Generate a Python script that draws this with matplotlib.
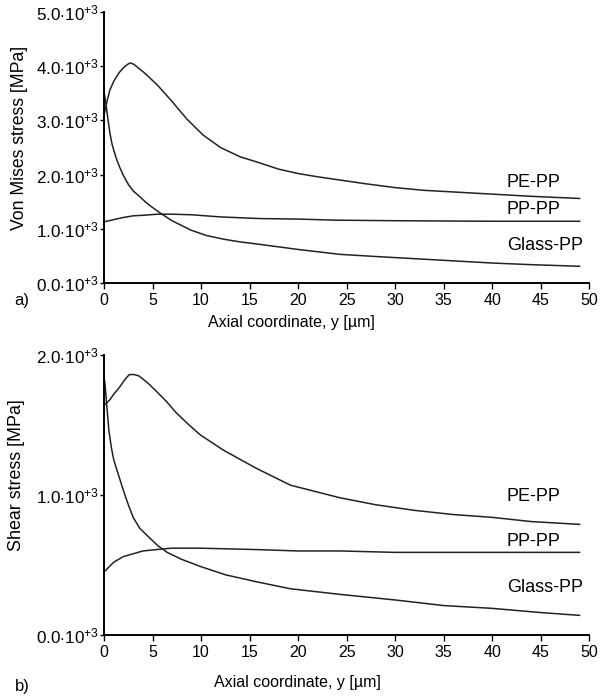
import numpy as np
import matplotlib
matplotlib.use("Agg")
import matplotlib.pyplot as plt

plt.rcParams["font.family"] = ["Liberation Sans", "DejaVu Sans"]
plt.rcParams["mathtext.fontset"] = "custom"
plt.rcParams["mathtext.rm"] = "Liberation Sans"
plt.rcParams["mathtext.it"] = "Liberation Sans:italic"
plt.rcParams["mathtext.bf"] = "Liberation Sans:bold"

# (a) Von Mises stress, values in 10^3 MPa
vm_pe_x = [0, 0.3, 0.6, 1.0, 1.3, 1.6, 2.0, 2.4, 2.7, 3.1, 3.5, 4.0, 4.5, 5.5, 7, 8.5, 10.2, 12, 14, 15.8, 18, 20, 22, 24.3, 27, 30, 33, 36, 40, 44, 49]
vm_pe_y = [3.1, 3.35, 3.56, 3.72, 3.81, 3.89, 3.97, 4.03, 4.06, 4.03, 3.97, 3.9, 3.82, 3.65, 3.35, 3.03, 2.73, 2.5, 2.33, 2.23, 2.1, 2.02, 1.96, 1.9, 1.83, 1.76, 1.71, 1.68, 1.64, 1.6, 1.56]
vm_glass_x = [0, 0.2, 0.4, 0.6, 0.8, 1.0, 1.3, 1.6, 2.0, 2.5, 3.0, 3.7, 4.3, 4.8, 5.8, 7, 8.9, 10.5, 12.3, 14, 15.8, 20, 24.3, 28, 32, 36, 40, 44, 49]
vm_glass_y = [3.52, 3.3, 3.02, 2.77, 2.58, 2.45, 2.28, 2.14, 1.98, 1.82, 1.70, 1.59, 1.49, 1.42, 1.29, 1.15, 0.98, 0.88, 0.81, 0.76, 0.72, 0.62, 0.53, 0.49, 0.45, 0.41, 0.37, 0.34, 0.31]
vm_pp_x = [0, 1, 2, 3, 4, 5.5, 7, 9, 12, 16, 20, 24, 30, 40, 49]
vm_pp_y = [1.13, 1.17, 1.21, 1.24, 1.25, 1.27, 1.27, 1.26, 1.22, 1.19, 1.18, 1.16, 1.15, 1.14, 1.14]

# (b) Shear stress, values in 10^3 MPa
sh_pe_x = [0, 0.3, 0.6, 1.0, 1.6, 2.1, 2.6, 3.1, 3.6, 4.5, 5.4, 6.4, 7.4, 8.6, 9.9, 12.3, 15.7, 19.2, 22.6, 24.3, 28, 32, 36, 40, 44, 49]
sh_pe_y = [1.64, 1.66, 1.68, 1.72, 1.77, 1.82, 1.86, 1.86, 1.85, 1.80, 1.74, 1.67, 1.59, 1.51, 1.43, 1.32, 1.19, 1.07, 1.01, 0.98, 0.93, 0.89, 0.86, 0.84, 0.81, 0.79]
sh_glass_x = [0, 0.1, 0.3, 0.5, 0.75, 1.0, 1.5, 2.0, 2.5, 3.0, 3.7, 4.6, 5.5, 6.5, 8, 9.9, 12.5, 15.7, 19.2, 24.3, 30, 35, 40, 45, 49]
sh_glass_y = [1.84, 1.79, 1.62, 1.46, 1.34, 1.25, 1.14, 1.03, 0.93, 0.84, 0.76, 0.70, 0.64, 0.59, 0.54, 0.49, 0.43, 0.38, 0.33, 0.29, 0.25, 0.21, 0.19, 0.16, 0.14]
sh_pp_x = [0, 1, 2, 3, 4, 5.4, 7, 9.9, 15.7, 20, 24.3, 30, 40, 49]
sh_pp_y = [0.45, 0.52, 0.56, 0.58, 0.60, 0.61, 0.62, 0.62, 0.61, 0.60, 0.60, 0.59, 0.59, 0.59]

series_names = ["PE-PP", "PP-PP", "Glass-PP"]
vm_label_y = [1.86, 1.35, 0.70]
sh_label_y = [0.99, 0.67, 0.34]
label_x = 41.5

xticks = np.arange(0, 51, 5)


def fmt(v):
    return r"$%.1f{\cdot}10^{+3}$" % v


def style_axes(ax, yticks, ymax):
    ax.set_xlim(0, 50)
    ax.set_ylim(0, ymax)
    ax.spines["top"].set_visible(False)
    ax.spines["right"].set_visible(False)
    ax.spines["left"].set_linewidth(1.4)
    ax.spines["bottom"].set_linewidth(1.4)
    ax.set_xticks(xticks)
    ax.set_xticklabels([str(t) for t in xticks])
    ax.set_yticks(yticks)
    ax.set_yticklabels([fmt(t) for t in yticks])
    ax.tick_params(axis="x", direction="out", length=4, width=1, labelsize=11.5, pad=3)
    ax.tick_params(axis="y", direction="out", length=3, width=1, labelsize=12.3, pad=1)


fig = plt.figure(figsize=(6.05, 6.99), dpi=100)

ax1 = fig.add_axes([0.172, 0.595, 0.802, 0.388])
ax1.plot(vm_pe_x, vm_pe_y, color="#222222", lw=1.1)
ax1.plot(vm_pp_x, vm_pp_y, color="#222222", lw=1.1)
ax1.plot(vm_glass_x, vm_glass_y, color="#222222", lw=1.1)
style_axes(ax1, [0, 1, 2, 3, 4, 5], 5.0)
for name, yv in zip(series_names, vm_label_y):
    ax1.text(label_x, yv, name, fontsize=13, va="center", ha="left")

ax2 = fig.add_axes([0.172, 0.0916, 0.802, 0.4006])
ax2.plot(sh_pe_x, sh_pe_y, color="#222222", lw=1.1)
ax2.plot(sh_pp_x, sh_pp_y, color="#222222", lw=1.1)
ax2.plot(sh_glass_x, sh_glass_y, color="#222222", lw=1.1)
style_axes(ax2, [0, 1, 2], 2.0)
for name, yv in zip(series_names, sh_label_y):
    ax2.text(label_x, yv, name, fontsize=13, va="center", ha="left")

fig.text(20 / 605, 1 - 138 / 699, "Von Mises stress [MPa]", rotation=90, fontsize=12.7, ha="center", va="center")
fig.text(17 / 605, 1 - 475 / 699, "Shear stress [MPa]", rotation=90, fontsize=12.9, ha="center", va="center")
fig.text(291 / 605, 1 - 322 / 699, "Axial coordinate, y [\u00b5m]", fontsize=11.5, ha="center", va="center")
fig.text(297 / 605, 1 - 683 / 699, "Axial coordinate, y [\u00b5m]", fontsize=11.5, ha="center", va="center")
fig.text(14 / 605, 1 - 301 / 699, "a)", fontsize=12, ha="left", va="center")
fig.text(15 / 605, 1 - 686 / 699, "b)", fontsize=12, ha="left", va="center")

fig.savefig("out.png", dpi=100)
